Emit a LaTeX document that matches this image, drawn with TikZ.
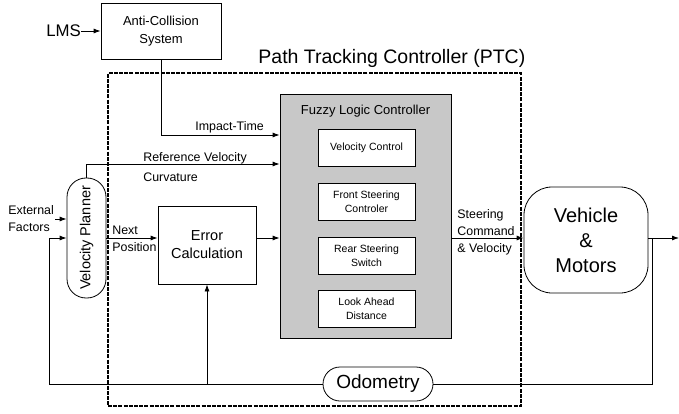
\documentclass[tikz,border=0pt]{standalone}
\usepackage{fontspec}
\setmainfont{Liberation Sans}
\usetikzlibrary{arrows.meta}
\definecolor{flcgray}{RGB}{200,200,200}
\begin{document}
\begin{tikzpicture}[x=1pt,y=-1pt,
  line width=0.8pt,
  arr/.style={-{Latex[length=7pt,width=5pt]}},
  box/.style={draw, fill=white, align=center, inner sep=0pt},
  lbl/.style={inner sep=0pt, anchor=base west, font=\fontsize{12.4}{17}\selectfont},
]
\useasboundingbox (0,0) rectangle (679,414);

% PTC dashed frame
\node[draw, line width=1.8pt, dash pattern=on 4pt off 1.2pt,
      minimum width=413pt, minimum height=333pt, inner sep=0pt] (ptc) at (314.5,239.5) {};
\node[inner sep=0pt, anchor=base west, font=\fontsize{19.5}{22}\selectfont] (ptct) at (258,64) {Path Tracking Controller (PTC)};

% Anti-collision
\node[box, minimum width=120pt, minimum height=56pt, font=\fontsize{13}{18}\selectfont] (acs) at (161,31) {Anti-Collision\\System};
\node[inner sep=0pt, anchor=base west, font=\fontsize{16.8}{18}\selectfont] (lms) at (46,37) {LMS};
\draw[arr] (lms.east |- acs.west) -- (acs.west);

% Fuzzy logic controller
\node[draw, fill=flcgray, minimum width=171pt, minimum height=244pt, inner sep=0pt] (flc) at (365.5,216) {};
\node[inner sep=0pt, anchor=base, font=\fontsize{13}{15}\selectfont] (flct) at (365.5,115) {Fuzzy Logic Controller};
\tikzset{inbox/.style={box, minimum width=97pt, minimum height=37pt, font=\fontsize{10.5}{14}\selectfont}}
\node[inbox] (vc) at (366.5,147.5) {Velocity Control};
\node[inbox] (fs) at (366.5,201.5) {Front Steering\\Controler};
\node[inbox] (rs) at (366.5,255.5) {Rear Steering\\Switch};
\node[inbox] (la) at (366.5,309) {Look Ahead\\Distance};

% Velocity planner
\node[box, rounded corners=19pt, minimum width=39pt, minimum height=120pt, font=\fontsize{14.5}{16}\selectfont] (vp) at (86.5,238) {\rotatebox{90}{Velocity Planner}};

% Error calculation
\node[box, minimum width=98pt, minimum height=78pt, font=\fontsize{14.5}{18}\selectfont] (err) at (207,245) {Error\\Calculation};

% Vehicle
\node[box, rounded corners=28pt, minimum width=124pt, minimum height=106pt, font=\fontsize{20}{25}\selectfont] (veh) at (586,240) {Vehicle\\\&\\Motors};

% Odometry
\node[box, rounded corners=17pt, minimum width=110pt, minimum height=34pt, font=\fontsize{19}{22}\selectfont] (odo) at (378,384) {Odometry};

% Coordinates
\coordinate (sig) at (0,238);
\coordinate (imt) at (0,135);
\coordinate (fbl) at (49,384);
\coordinate (br) at (652,238);
\coordinate (out) at (679,238);

% Labels
\node[lbl] (imp) at (195,131) {Impact-Time};
\node[lbl] (refv) at (143,161.7) {Reference Velocity};
\node[lbl] (curv) at (143,181.7) {Curvature};
\node[lbl] (nxt) at (112,234) {Next};
\node[lbl] (pos) at (112,251) {Position};
\node[inner sep=1pt, align=left, font=\fontsize{12.4}{17}\selectfont, anchor=west] (ext) at (7,219) {External\\Factors};
\node[lbl] (st1) at (457,218) {Steering};
\node[lbl] (st2) at (457,235) {Command};
\node[lbl] (st3) at (457,252) {\& Velocity};

% Connectors
\draw[arr] (acs.south) |- (flc.west |- imt);
\draw[arr] (vp.north) |- (flc.west |- 0,164);
\draw[arr] (ext.east) -- (vp.west |- ext.east);
\draw[arr] (vp.east |- sig) -- (err.west |- sig);
\draw[arr] (err.east |- sig) -- (flc.west |- sig);
\draw[arr] (flc.east |- sig) -- (veh.west |- sig);
\draw[arr] (veh.east |- sig) -- (out);
\draw (br) |- (odo.east);
\draw[arr] (odo.west) -- (fbl) |- (vp.west |- sig);
\draw[arr] (err.south |- fbl) -- (err.south);
\end{tikzpicture}
\end{document}
